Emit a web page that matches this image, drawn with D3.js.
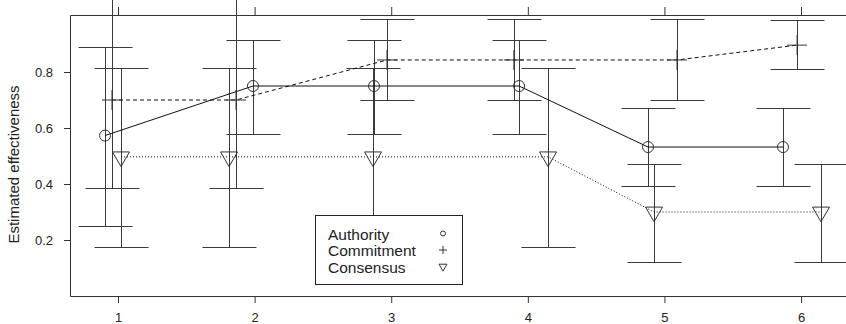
<!DOCTYPE html>
<html><head><meta charset="utf-8">
<script src="https://cdn.jsdelivr.net/npm/d3@7"></script>
<style>
html,body{margin:0;padding:0;background:#fff;}
svg{display:block;font-family:"Liberation Sans",Arial,sans-serif;}
</style></head>
<body>
<svg id="c" width="846" height="324"></svg>
<script>
// ---- data ----
const xTicks = [1, 2, 3, 4, 5, 6];
const yTicks = [0.2, 0.4, 0.6, 0.8];
const seriesNames = ["Authority", "Commitment", "Consensus"];

// jittered x positions
const authX = [0.905, 1.988, 2.874, 3.936, 4.880, 5.868];
const authY = [0.573, 0.75, 0.75, 0.75, 0.532, 0.532];
const authLo = [0.25, 0.58, 0.58, 0.58, 0.393, 0.393];
const authHi = [0.889, 0.914, 0.914, 0.914, 0.671, 0.671];

const commX = [0.956, 1.864, 2.969, 3.898, 5.092, 5.971];
const commY = [0.70, 0.70, 0.843, 0.843, 0.843, 0.896];
const commLo = [0.386, 0.386, 0.70, 0.70, 0.70, 0.81];
const commHi = [1.08, 1.08, 0.99, 0.99, 0.99, 0.986];

const consX = [1.022, 1.813, 2.867, 4.148, 4.924, 6.146];
const consY = [0.497, 0.497, 0.497, 0.497, 0.30, 0.30];
const consLo = [0.175, 0.175, 0.175, 0.175, 0.121, 0.121];
const consHi = [0.816, 0.816, 0.816, 0.816, 0.471, 0.471];

// ---- layout ----
const L = 70, R = 849, T = 15, B = 296;
const svg = d3.select("#c");
const x = d3.scaleLinear().domain([0.6486, 6.351]).range([L, R]);
const y = d3.scaleLinear().domain([0, 1.0036]).range([B, T]);

const axisCol = "#333", textCol = "#222", barCol = "#3a3a3a", lineCol = "#111";

// axes
const gB = svg.append("g").attr("transform", `translate(0,${B})`)
  .call(d3.axisBottom(x).tickValues(xTicks).tickFormat(d3.format("d")).tickSize(7).tickPadding(10));
const gT = svg.append("g").attr("transform", `translate(0,${T})`)
  .call(d3.axisTop(x).tickValues(xTicks).tickFormat("").tickSize(8));
const gL = svg.append("g").attr("transform", `translate(${L},0)`)
  .call(d3.axisLeft(y).tickValues(yTicks).tickFormat(d3.format(".1f")).tickSize(6).tickPadding(11));
[gB, gT, gL].forEach(g => {
  g.select(".domain").remove();
  g.selectAll(".tick line").attr("stroke", axisCol);
  g.selectAll(".tick text").attr("fill", textCol).style("font-size", "13px")
    .style("font-family", '"Liberation Sans",Arial,sans-serif');
});

// box (right edge falls outside the picture)
svg.append("path")
  .attr("d", `M${R + 0.5},${T + 0.5}H${L + 0.5}V${B + 0.5}H${R + 0.5}`)
  .attr("fill", "none").attr("stroke", axisCol);

// y title
svg.append("text")
  .attr("transform", `translate(19,${(T + B) / 2 + 9}) rotate(-90)`)
  .attr("text-anchor", "middle").attr("fill", textCol)
  .style("font-size", "15px").text("Estimated effectiveness");

const series = [
  { xs: authX, ys: authY, lo: authLo, hi: authHi, dash: null, sym: "circle" },
  { xs: commX, ys: commY, lo: commLo, hi: commHi, dash: "4,3", sym: "plus" },
  { xs: consX, ys: consY, lo: consLo, hi: consHi, dash: "1,2", sym: "tri" }
];

const capW = 27;
const crisp = v => Math.round(v) + 0.5;

// error bars
series.forEach(s => {
  const g = svg.append("g").attr("stroke", barCol).attr("fill", "none");
  s.xs.forEach((xv, i) => {
    const px = crisp(x(xv)), py1 = crisp(y(s.lo[i])), py2 = crisp(y(s.hi[i]));
    g.append("path").attr("d",
      `M${px},${py1}V${py2}M${px - capW},${py1}H${px + capW}M${px - capW},${py2}H${px + capW}`);
  });
});

// connecting lines
series.forEach(s => {
  const line = d3.line().x((d, i) => x(s.xs[i])).y(d => y(d));
  svg.append("path").datum(s.ys).attr("d", line)
    .attr("fill", "none").attr("stroke", lineCol).attr("stroke-width", 1)
    .attr("stroke-dasharray", s.dash);
});

// markers
function drawSym(g, sym, cx, cy, size) {
  if (sym === "circle") {
    g.append("circle").attr("cx", cx).attr("cy", cy).attr("r", size * 0.55);
  } else if (sym === "plus") {
    g.append("path").attr("d", `M${cx - size},${cy}H${cx + size}M${cx},${cy - size}V${cy + size}`);
  } else {
    const w = size, h = size * 1.732;
    g.append("path").attr("d",
      `M${cx - w},${cy - h / 3}L${cx + w},${cy - h / 3}L${cx},${cy + 2 * h / 3}Z`);
  }
}
series.forEach(s => {
  const g = svg.append("g").attr("stroke", "#333").attr("fill", "none").attr("stroke-width", 1);
  s.xs.forEach((xv, i) => {
    const cx = x(xv), cy = y(s.ys[i]);
    if (s.sym === "circle") drawSym(g, "circle", cx, cy, 10);
    else if (s.sym === "plus") drawSym(g, "plus", cx, cy, 10);
    else drawSym(g, "tri", cx, cy, 8.5);
  });
});

// legend
const lg = svg.append("g");
lg.append("rect").attr("x", 315.5).attr("y", 215.5).attr("width", 147).attr("height", 69)
  .attr("fill", "#fff").attr("stroke", "#222");
const symG = lg.append("g").attr("stroke", "#333").attr("fill", "none");
seriesNames.forEach((n, i) => {
  const by = 239.5 + i * 16.5;
  lg.append("text").attr("x", 328).attr("y", by).attr("fill", textCol)
    .style("font-size", "15.5px").text(n);
  const sy = by - 6;
  if (i === 0) drawSym(symG, "circle", 443, sy, 4.5);
  else if (i === 1) drawSym(symG, "plus", 443, sy, 4);
  else drawSym(symG, "tri", 443, sy, 4);
});
</script>
</body></html>
